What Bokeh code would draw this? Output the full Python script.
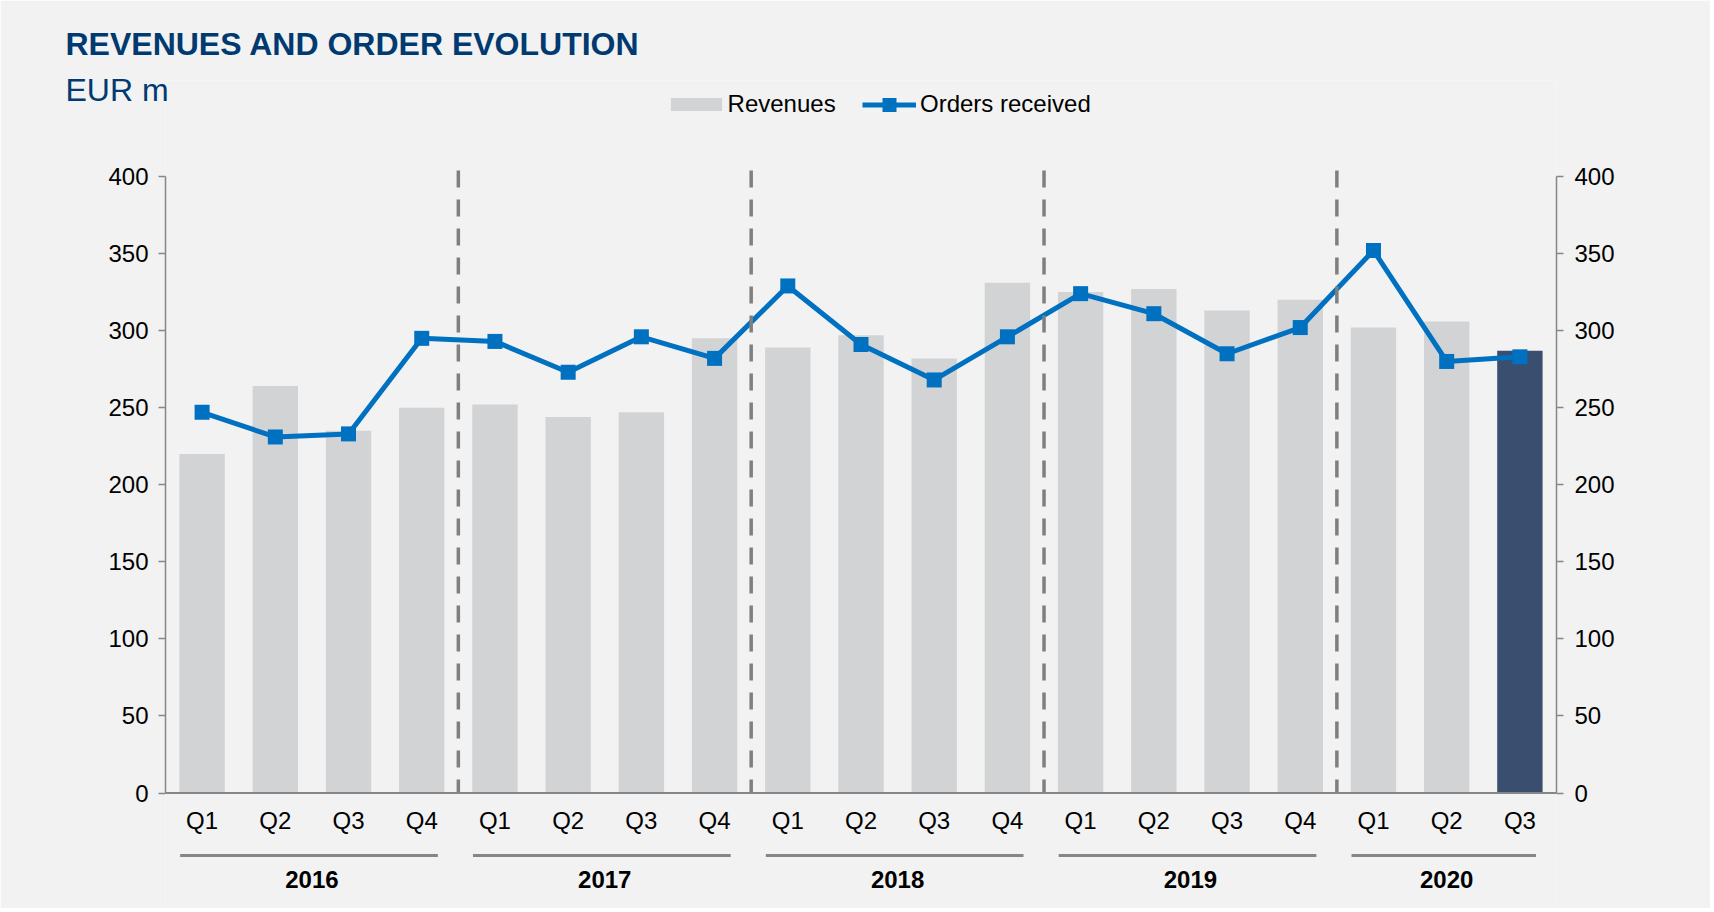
from bokeh.plotting import figure
from bokeh.models import (Range1d, LinearAxis, FixedTicker, Span, Legend,
                          LegendItem, ColumnDataSource, Title)
from bokeh.core.properties import value
from bokeh.embed import file_html
from bokeh.resources import INLINE

# ---------------- data ----------------
quarters = ["Q1", "Q2", "Q3", "Q4", "Q1", "Q2", "Q3", "Q4", "Q1", "Q2", "Q3", "Q4",
            "Q1", "Q2", "Q3", "Q4", "Q1", "Q2", "Q3"]
period_year = ["2016"] * 4 + ["2017"] * 4 + ["2018"] * 4 + ["2019"] * 4 + ["2020"] * 3
years = ["2016", "2017", "2018", "2019", "2020"]
revenues = [220, 264, 235, 250, 252, 244, 247, 295, 289, 297, 282, 331,
            325, 327, 313, 320, 302, 306, 287]
orders = [247, 231, 233, 295, 293, 273, 296, 282, 329, 291, 268, 296,
          324, 311, 285, 302, 352, 280, 283]
y_ticks = [0, 50, 100, 150, 200, 250, 300, 350, 400]
title_text = "REVENUES AND ORDER EVOLUTION"
unit_text = "EUR m"

# ---------------- style ----------------
FONT = "Liberation Sans"
BG = "#f2f2f2"
BAR = "#d2d3d5"
BAR_HI = "#3a4e6f"
BLUE = "#0070c0"
NAVY = "#003a70"
GREY = "#7f7f7f"
AXIS = "#868686"
FS = "24px"
W, H = 1710, 908

n = len(quarters)
xs = list(range(n))
colors = [BAR] * (n - 1) + [BAR_HI]
src = ColumnDataSource(dict(x=xs, rev=revenues, orders=orders, q=quarters, color=colors))

p = figure(width=W, height=H, output_backend="svg", toolbar_location=None, title=None,
           x_range=Range1d(-0.5, n - 0.5), y_range=Range1d(-74.94, 462.3),
           min_border_left=165, min_border_right=154, min_border_top=80, min_border_bottom=0,
           x_axis_location=None, y_axis_location="left")
p.background_fill_color = BG
p.border_fill_color = BG
p.outline_line_color = None
p.grid.visible = False

bars = p.vbar(x="x", top="rev", bottom=0, width=0.62, fill_color="color",
              line_color=None, source=src)

p.add_layout(Span(location=0, dimension="width", line_color=AXIS, line_width=2))

line = p.line("x", "orders", line_color=BLUE, line_width=5, source=src)
marks = p.scatter("x", "orders", marker="square", size=15, fill_color=BLUE,
                  line_color=None, source=src)

# dashed year separators
bounds_x = [i + 0.5 for i in range(n - 1) if period_year[i] != period_year[i + 1]]
p.segment(x0=bounds_x, y0=[403.9] * len(bounds_x), x1=bounds_x, y1=[0] * len(bounds_x),
          line_color=GREY, line_width=3.5, line_dash="17 12")

# quarter labels
p.text(x="x", y=-17.84, text="q", source=src, text_font=value(FONT),
       text_font_size=value(FS), text_align="center", text_baseline="middle",
       text_color="#000000")

# year underline + labels
firsts = [period_year.index(y) for y in years]
lasts = [n - 1 - period_year[::-1].index(y) for y in years]
p.segment(x0=[f - 0.3 for f in firsts], y0=-40.55, x1=[l + 0.22 for l in lasts], y1=-40.55,
          line_color=AXIS, line_width=3)
p.text(x=[(f + l) / 2 for f, l in zip(firsts, lasts)], y=-56.12, text=years,
       text_font=value(FONT), text_font_size=value(FS), text_font_style="bold",
       text_align="center", text_baseline="middle", text_color="#000000")


def style_axis(ax, standoff):
    ax.ticker = FixedTicker(ticks=y_ticks)
    ax.bounds = (0, 400)
    ax.axis_line_color = AXIS
    ax.axis_line_width = 1.5
    ax.major_tick_line_color = AXIS
    ax.major_tick_line_width = 1.5
    ax.major_tick_out = 7
    ax.major_tick_in = 0
    ax.minor_tick_line_color = None
    ax.major_label_text_font = FONT
    ax.major_label_text_font_size = FS
    ax.major_label_text_color = "#000000"
    ax.major_label_standoff = standoff


style_axis(p.yaxis[0], 10)
ax2 = LinearAxis()
style_axis(ax2, 11)
p.add_layout(ax2, "right")

# legends (inside frame, near the top)
common = dict(orientation="horizontal", padding=0, margin=0, border_line_color=None,
              background_fill_alpha=0, label_text_font=FONT, label_text_font_size=FS,
              label_text_color="#000000", label_height=35)
leg1 = Legend(items=[LegendItem(label="Revenues", renderers=[bars], index=0)],
              location=(498.6, 786.5), glyph_width=64, glyph_height=16,
              label_standoff=0, **common)
leg2 = Legend(items=[LegendItem(label="Orders received", renderers=[line, marks], index=0)],
              location=(697, 786.5), glyph_width=54, glyph_height=35,
              label_standoff=4, **common)
p.add_layout(leg1)
p.add_layout(leg2)

# title (nearest to frame) and unit line (stacked further out, pushed down)
p.add_layout(Title(text=title_text, align="left", offset=-100, vertical_align="top",
                   standoff=33, text_font=FONT, text_font_size="32px",
                   text_font_style="bold", text_color=NAVY), "above")
p.add_layout(Title(text=unit_text, align="left", offset=-100, vertical_align="bottom",
                   standoff=-197, text_font=FONT, text_font_size="32px",
                   text_font_style="normal", text_color=NAVY), "above")

open("out.html", "w").write(file_html(p, INLINE))
